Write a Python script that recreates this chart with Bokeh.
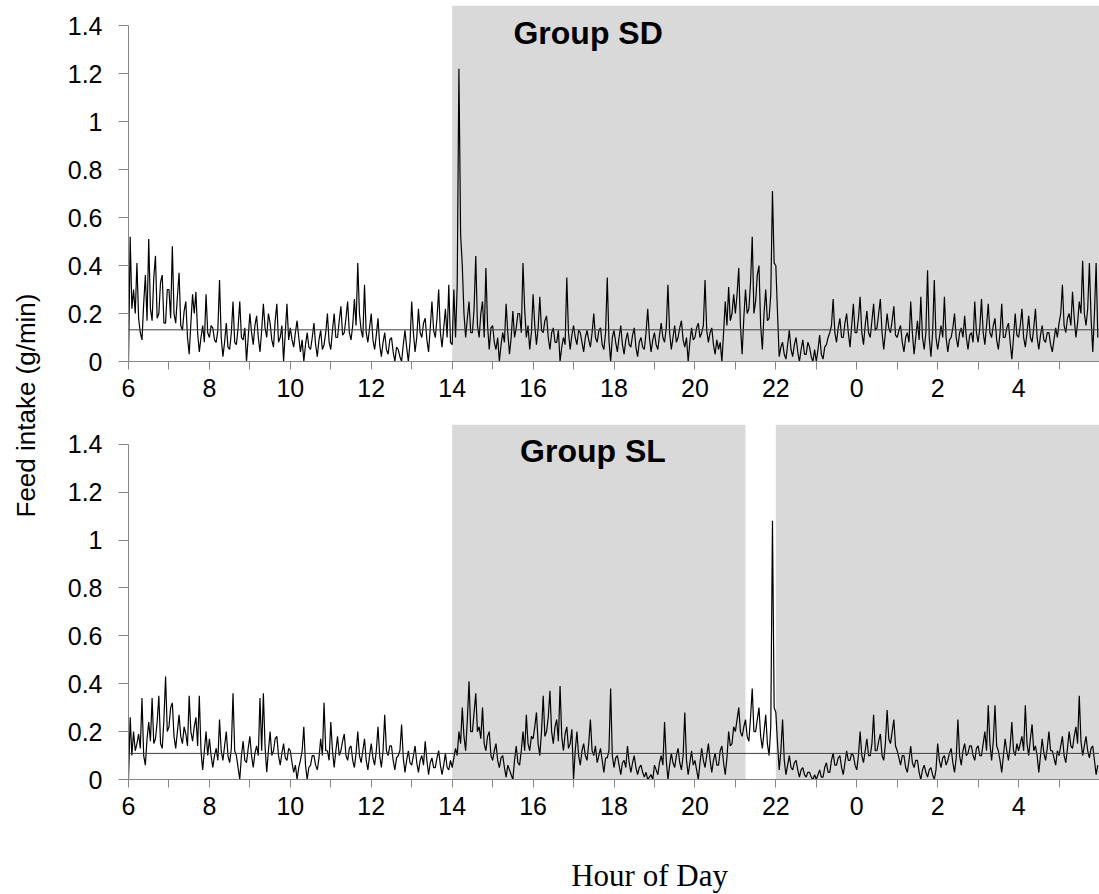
from bokeh.plotting import figure
from bokeh.models import Range1d, FixedTicker, BoxAnnotation, Span, Label
from bokeh.layouts import row, column
from bokeh.embed import file_html
from bokeh.resources import INLINE
import math

# ---------------- data (2.5-min feed intake, g/min), 06:00 -> 05:57 ----------------
sd_values = [
    0.0, 0.52, 0.22, 0.3, 0.2, 0.41, 0.18, 0.12, 0.09, 0.24, 0.36, 0.17, 0.51, 0.22, 0.17, 0.35, 0.44, 0.18, 0.2, 0.33, 0.36, 0.16, 0.16, 0.3,  # 6
    0.3, 0.18, 0.48, 0.2, 0.16, 0.27, 0.37, 0.15, 0.13, 0.21, 0.25, 0.1, 0.03, 0.16, 0.28, 0.2, 0.29, 0.12, 0.04, 0.1, 0.15, 0.08, 0.28, 0.12,  # 7
    0.1, 0.15, 0.14, 0.09, 0.08, 0.13, 0.34, 0.1, 0.02, 0.08, 0.16, 0.06, 0.05, 0.12, 0.25, 0.08, 0.07, 0.14, 0.25, 0.1, 0.09, 0.14, 0.0, 0.1,  # 8
    0.2, 0.12, 0.07, 0.15, 0.19, 0.1, 0.04, 0.13, 0.24, 0.14, 0.1, 0.2, 0.16, 0.09, 0.06, 0.17, 0.24, 0.08, 0.1, 0.15, 0.0, 0.12, 0.24, 0.09,  # 9
    0.14, 0.09, 0.06, 0.12, 0.17, 0.1, 0.04, 0.09, 0.0, 0.07, 0.12, 0.06, 0.05, 0.1, 0.16, 0.07, 0.02, 0.09, 0.13, 0.05, 0.07, 0.12, 0.2, 0.08,  # 10
    0.05, 0.13, 0.2, 0.1, 0.1, 0.17, 0.23, 0.11, 0.12, 0.18, 0.25, 0.12, 0.09, 0.15, 0.26, 0.15, 0.41, 0.2, 0.13, 0.1, 0.32, 0.12, 0.08, 0.14,  # 11
    0.2, 0.09, 0.05, 0.11, 0.18, 0.07, 0.02, 0.08, 0.12, 0.05, 0.03, 0.09, 0.1, 0.04, 0.0, 0.06, 0.05, 0.02, 0.0, 0.07, 0.13, 0.06, 0.0, 0.08,  # 12
    0.25, 0.12, 0.04, 0.1, 0.22, 0.12, 0.1, 0.16, 0.18, 0.09, 0.04, 0.14, 0.25, 0.13, 0.1, 0.18, 0.3, 0.12, 0.06, 0.14, 0.22, 0.1, 0.32, 0.08,  # 13
    0.07, 0.3, 0.1, 0.32, 1.22, 0.53, 0.4, 0.2, 0.1, 0.18, 0.25, 0.12, 0.12, 0.22, 0.44, 0.15, 0.1, 0.2, 0.25, 0.1, 0.39, 0.15, 0.05, 0.14,  # 14
    0.15, 0.08, 0.05, 0.1, 0.0, 0.07, 0.12, 0.08, 0.24, 0.12, 0.03, 0.1, 0.21, 0.1, 0.14, 0.2, 0.2, 0.12, 0.41, 0.22, 0.1, 0.15, 0.05, 0.12,  # 15
    0.28, 0.15, 0.07, 0.14, 0.27, 0.13, 0.12, 0.17, 0.19, 0.1, 0.05, 0.12, 0.14, 0.08, 0.08, 0.13, 0.0, 0.06, 0.1, 0.07, 0.35, 0.12, 0.05, 0.11,  # 16
    0.15, 0.1, 0.07, 0.13, 0.12, 0.08, 0.04, 0.1, 0.13, 0.09, 0.06, 0.12, 0.2, 0.1, 0.08, 0.13, 0.14, 0.07, 0.05, 0.12, 0.35, 0.09, 0.0, 0.1,  # 17
    0.13, 0.08, 0.04, 0.1, 0.15, 0.07, 0.03, 0.09, 0.12, 0.07, 0.06, 0.11, 0.14, 0.06, 0.02, 0.08, 0.1, 0.06, 0.05, 0.12, 0.22, 0.1, 0.04, 0.09,  # 18
    0.12, 0.07, 0.05, 0.11, 0.16, 0.1, 0.08, 0.14, 0.32, 0.12, 0.05, 0.1, 0.15, 0.08, 0.1, 0.14, 0.17, 0.09, 0.06, 0.1, 0.0, 0.08, 0.14, 0.09,  # 19
    0.1, 0.14, 0.16, 0.1, 0.12, 0.15, 0.34, 0.13, 0.08, 0.12, 0.14, 0.07, 0.03, 0.09, 0.05, 0.08, 0.0, 0.12, 0.25, 0.15, 0.31, 0.17, 0.2, 0.28,  # 20
    0.2, 0.28, 0.39, 0.15, 0.03, 0.18, 0.3, 0.2, 0.22, 0.33, 0.52, 0.2, 0.25, 0.36, 0.4, 0.15, 0.05, 0.2, 0.3, 0.17, 0.18, 0.28, 0.71, 0.41,  # 21
    0.4, 0.2, 0.02, 0.06, 0.08, 0.03, 0.01, 0.07, 0.13, 0.05, 0.02, 0.07, 0.1, 0.04, 0.0, 0.05, 0.09, 0.03, 0.03, 0.08, 0.06, 0.02, 0.0, 0.05,  # 22
    0.0, 0.05, 0.11, 0.03, 0.01, 0.06, 0.07, 0.1, 0.12, 0.15, 0.26, 0.12, 0.08, 0.14, 0.18, 0.1, 0.1, 0.16, 0.2, 0.12, 0.06, 0.15, 0.24, 0.12,  # 23
    0.12, 0.18, 0.27, 0.12, 0.07, 0.15, 0.21, 0.12, 0.1, 0.17, 0.24, 0.13, 0.14, 0.2, 0.26, 0.12, 0.05, 0.12, 0.2, 0.14, 0.12, 0.17, 0.23, 0.11,  # 0
    0.1, 0.13, 0.15, 0.08, 0.04, 0.1, 0.12, 0.08, 0.25, 0.12, 0.03, 0.1, 0.17, 0.09, 0.27, 0.1, 0.05, 0.12, 0.38, 0.1, 0.02, 0.12, 0.34, 0.1,  # 1
    0.05, 0.1, 0.15, 0.1, 0.27, 0.1, 0.04, 0.09, 0.1, 0.14, 0.2, 0.1, 0.06, 0.12, 0.14, 0.1, 0.19, 0.1, 0.05, 0.11, 0.12, 0.08, 0.25, 0.12,  # 2
    0.08, 0.14, 0.26, 0.12, 0.07, 0.15, 0.24, 0.12, 0.1, 0.15, 0.18, 0.09, 0.05, 0.12, 0.24, 0.1, 0.1, 0.14, 0.16, 0.08, 0.01, 0.1, 0.2, 0.11,  # 3
    0.1, 0.15, 0.22, 0.1, 0.06, 0.12, 0.19, 0.1, 0.08, 0.14, 0.22, 0.1, 0.05, 0.11, 0.15, 0.09, 0.08, 0.12, 0.12, 0.07, 0.04, 0.09, 0.14, 0.1,  # 4
    0.16, 0.2, 0.32, 0.15, 0.12, 0.18, 0.2, 0.15, 0.29, 0.18, 0.1, 0.16, 0.25, 0.2, 0.42, 0.2, 0.15, 0.22, 0.41, 0.18, 0.04, 0.2, 0.41, 0.1,  # 5
]
sl_values = [
    0.0, 0.26, 0.1, 0.2, 0.12, 0.15, 0.19, 0.13, 0.34, 0.1, 0.06, 0.17, 0.24, 0.16, 0.34, 0.15, 0.17, 0.24, 0.35, 0.15, 0.13, 0.25, 0.43, 0.2,  # 6
    0.22, 0.3, 0.32, 0.18, 0.13, 0.2, 0.27, 0.18, 0.15, 0.22, 0.19, 0.14, 0.35, 0.2, 0.16, 0.22, 0.26, 0.14, 0.35, 0.12, 0.04, 0.12, 0.2, 0.1,  # 7
    0.17, 0.1, 0.05, 0.1, 0.13, 0.08, 0.25, 0.12, 0.08, 0.14, 0.2, 0.1, 0.07, 0.13, 0.36, 0.12, 0.1, 0.05, 0.0, 0.1, 0.16, 0.08, 0.07, 0.13,  # 8
    0.18, 0.1, 0.05, 0.11, 0.14, 0.1, 0.34, 0.12, 0.36, 0.14, 0.03, 0.12, 0.2, 0.1, 0.12, 0.17, 0.18, 0.1, 0.06, 0.11, 0.15, 0.09, 0.08, 0.13,  # 9
    0.12, 0.07, 0.03, 0.06, 0.0, 0.05, 0.08, 0.12, 0.22, 0.06, 0.0, 0.05, 0.06, 0.1, 0.1, 0.06, 0.04, 0.09, 0.17, 0.1, 0.32, 0.12, 0.12, 0.08,  # 10
    0.24, 0.12, 0.05, 0.12, 0.18, 0.1, 0.12, 0.16, 0.19, 0.1, 0.08, 0.13, 0.14, 0.08, 0.05, 0.11, 0.2, 0.1, 0.07, 0.12, 0.17, 0.08, 0.04, 0.1,  # 11
    0.15, 0.09, 0.06, 0.12, 0.22, 0.1, 0.05, 0.12, 0.27, 0.12, 0.1, 0.14, 0.14, 0.08, 0.04, 0.09, 0.1, 0.12, 0.23, 0.09, 0.03, 0.08, 0.12, 0.07,  # 12
    0.06, 0.1, 0.14, 0.07, 0.03, 0.08, 0.1, 0.06, 0.16, 0.08, 0.02, 0.07, 0.09, 0.05, 0.05, 0.09, 0.12, 0.06, 0.02, 0.06, 0.11, 0.05, 0.04, 0.08,  # 13
    0.05, 0.09, 0.13, 0.1, 0.2, 0.15, 0.3, 0.18, 0.12, 0.25, 0.41, 0.2, 0.2, 0.28, 0.36, 0.2, 0.22, 0.17, 0.3, 0.15, 0.12, 0.18, 0.2, 0.1,  # 14
    0.08, 0.12, 0.15, 0.08, 0.05, 0.09, 0.1, 0.05, 0.01, 0.06, 0.04, 0.02, 0.0, 0.08, 0.14, 0.07, 0.06, 0.12, 0.2, 0.12, 0.27, 0.15, 0.12, 0.18,  # 15
    0.17, 0.22, 0.28, 0.15, 0.1, 0.2, 0.35, 0.18, 0.2, 0.26, 0.37, 0.2, 0.15, 0.22, 0.25, 0.16, 0.39, 0.18, 0.12, 0.19, 0.22, 0.13, 0.15, 0.21,  # 16
    0.0, 0.12, 0.2, 0.1, 0.06, 0.12, 0.15, 0.1, 0.08, 0.15, 0.25, 0.12, 0.1, 0.14, 0.07, 0.1, 0.13, 0.08, 0.03, 0.09, 0.09, 0.12, 0.38, 0.1,  # 17
    0.05, 0.09, 0.1, 0.06, 0.02, 0.07, 0.08, 0.05, 0.14, 0.07, 0.03, 0.07, 0.1, 0.05, 0.02, 0.05, 0.06, 0.03, 0.01, 0.03, 0.0, 0.01, 0.02, 0.0,  # 18
    0.06, 0.04, 0.02, 0.07, 0.1, 0.06, 0.24, 0.08, 0.0, 0.06, 0.11, 0.07, 0.05, 0.1, 0.13, 0.07, 0.04, 0.1, 0.28, 0.08, 0.02, 0.07, 0.12, 0.06,  # 19
    0.08, 0.04, 0.0, 0.07, 0.13, 0.08, 0.05, 0.1, 0.15, 0.08, 0.03, 0.08, 0.11, 0.06, 0.06, 0.12, 0.14, 0.07, 0.02, 0.09, 0.2, 0.14, 0.15, 0.22,  # 20
    0.2, 0.25, 0.3, 0.2, 0.18, 0.22, 0.25, 0.18, 0.16, 0.26, 0.38, 0.2, 0.2, 0.25, 0.3, 0.18, 0.13, 0.2, 0.27, 0.15, 0.1, 0.22, 1.08, 0.3,  # 21
    0.28, 0.15, 0.04, 0.12, 0.25, 0.08, 0.02, 0.06, 0.1, 0.05, 0.04, 0.07, 0.08, 0.04, 0.01, 0.04, 0.05, 0.02, 0.01, 0.03, 0.03, 0.01, 0.0, 0.02,  # 22
    0.0, 0.02, 0.04, 0.01, 0.01, 0.05, 0.07, 0.03, 0.03, 0.08, 0.11, 0.06, 0.06, 0.09, 0.1, 0.05, 0.02, 0.07, 0.12, 0.08, 0.08, 0.11, 0.1, 0.06,  # 23
    0.04, 0.1, 0.2, 0.1, 0.07, 0.12, 0.17, 0.1, 0.1, 0.15, 0.27, 0.12, 0.12, 0.16, 0.19, 0.1, 0.08, 0.15, 0.29, 0.17, 0.15, 0.2, 0.25, 0.14,  # 0
    0.12, 0.09, 0.06, 0.1, 0.1, 0.05, 0.03, 0.08, 0.14, 0.07, 0.05, 0.08, 0.08, 0.03, 0.0, 0.04, 0.06, 0.03, 0.01, 0.04, 0.05, 0.02, 0.0, 0.04,  # 1
    0.15, 0.08, 0.05, 0.09, 0.1, 0.06, 0.08, 0.11, 0.13, 0.07, 0.03, 0.09, 0.25, 0.1, 0.06, 0.12, 0.15, 0.1, 0.11, 0.14, 0.14, 0.1, 0.08, 0.13,  # 2
    0.14, 0.1, 0.1, 0.15, 0.2, 0.12, 0.31, 0.15, 0.08, 0.16, 0.31, 0.14, 0.12, 0.08, 0.03, 0.1, 0.17, 0.12, 0.08, 0.14, 0.24, 0.12, 0.1, 0.15,  # 3
    0.12, 0.15, 0.18, 0.12, 0.31, 0.15, 0.1, 0.17, 0.23, 0.12, 0.14, 0.1, 0.03, 0.1, 0.17, 0.11, 0.08, 0.13, 0.2, 0.12, 0.12, 0.09, 0.06, 0.12,  # 4
    0.1, 0.14, 0.18, 0.1, 0.07, 0.13, 0.2, 0.14, 0.13, 0.18, 0.22, 0.15, 0.35, 0.16, 0.1, 0.14, 0.18, 0.12, 0.09, 0.13, 0.14, 0.08, 0.02, 0.06,  # 5
]
hours = [6 + i / 24 for i in range(len(sd_values))]

sd_mean = 0.132
sl_mean = 0.109
sd_dark = [(14, 30)]
sl_dark = [(14, 21.25), (22, 30)]

x_ticks = [6, 8, 10, 12, 14, 16, 18, 20, 22, 24, 26, 28]
x_tick_labels = ["6", "8", "10", "12", "14", "16", "18", "20", "22", "0", "2", "4"]
x_minor = [7, 9, 11, 13, 15, 17, 19, 21, 23, 25, 27, 29]
y_ticks = [0, 0.2, 0.4, 0.6, 0.8, 1, 1.2, 1.4]
y_tick_labels = ["0", "0.2", "0.4", "0.6", "0.8", "1", "1.2", "1.4"]

FONT = "Liberation Sans"
AXIS_GREY = "#868686"
SHADE = "#d9d9d9"
PANEL_W = 1051
YLAB_W = 48


def panel(values, mean, dark, title, title_x, height, border_top, border_bottom, y_end):
    p = figure(width=PANEL_W, height=height, x_range=Range1d(6, 30),
               y_range=Range1d(0, y_end), output_backend="svg",
               toolbar_location=None, min_border_left=80, min_border_right=0,
               min_border_top=border_top, min_border_bottom=border_bottom)
    p.xgrid.visible = False
    p.ygrid.visible = False
    p.outline_line_color = None
    p.background_fill_color = "white"
    for s, e in dark:
        p.add_layout(BoxAnnotation(left=s, right=e, fill_color=SHADE, fill_alpha=1.0,
                                   line_color=None, level="underlay"))
    p.add_layout(Span(location=mean, dimension="width", line_color="#3f3f3f",
                      line_width=1))
    p.line(hours, values, line_color="black", line_width=1.2)

    xa = p.xaxis[0]
    xa.ticker = FixedTicker(ticks=x_ticks, minor_ticks=x_minor)
    xa.major_label_overrides = dict(zip(x_ticks, x_tick_labels))
    xa.axis_line_color = AXIS_GREY
    xa.major_tick_line_color = AXIS_GREY
    xa.minor_tick_line_color = AXIS_GREY
    xa.major_tick_out = 8
    xa.major_tick_in = 0
    xa.minor_tick_out = 8
    xa.minor_tick_in = 0
    xa.major_label_standoff = 9
    xa.major_label_text_font = FONT
    xa.major_label_text_font_size = "25px"
    xa.major_label_text_color = "black"

    ya = p.yaxis[0]
    ya.ticker = FixedTicker(ticks=y_ticks, minor_ticks=[])
    ya.major_label_overrides = dict(zip(y_ticks, y_tick_labels))
    ya.bounds = (0, 1.4)
    ya.axis_line_color = AXIS_GREY
    ya.major_tick_line_color = AXIS_GREY
    ya.major_tick_out = 10
    ya.major_tick_in = 0
    ya.minor_tick_line_color = None
    ya.major_label_standoff = 16
    ya.major_label_text_font = FONT
    ya.major_label_text_font_size = "25px"
    ya.major_label_text_color = "black"

    p.add_layout(Label(x=title_x, y=1.37, text=title, text_font=FONT,
                       text_font_size="32px", text_font_style="bold",
                       text_color="black", text_align="center",
                       text_baseline="middle"))
    return p


top = panel(sd_values, sd_mean, sd_dark, "Group SD", 17.36, 424, 5, 63, 356 / 240)
bot = panel(sl_values, sl_mean, sl_dark, "Group SL", 17.48, 406, 0, 51, 355 / 239.5)

# x-axis title strip
XLAB_H = 64
xlab = figure(width=PANEL_W, height=XLAB_H, x_range=Range1d(0, 1), y_range=Range1d(0, 1),
              output_backend="svg", toolbar_location=None, min_border=0)
xlab.axis.visible = False
xlab.grid.visible = False
xlab.outline_line_color = None
xlab.add_layout(Label(x=(612 - YLAB_W) / PANEL_W, y=1 - 45 / XLAB_H, text="Hour of Day",
                      text_font="Liberation Serif", text_font_size="31px",
                      text_color="black", text_align="center",
                      text_baseline="middle"))

# y-axis title strip
YLAB_H = 894
ylab = figure(width=YLAB_W, height=YLAB_H, x_range=Range1d(0, 1), y_range=Range1d(0, 1),
              output_backend="svg", toolbar_location=None, min_border=0)
ylab.axis.visible = False
ylab.grid.visible = False
ylab.outline_line_color = None
ylab.add_layout(Label(x=25 / YLAB_W, y=1 - 405 / YLAB_H, text="Feed intake (g/min)",
                      text_font=FONT, text_font_size="26px", text_color="black",
                      angle=math.pi / 2, text_align="center",
                      text_baseline="middle"))

layout = row(ylab, column(top, bot, xlab))

open("out.html", "w").write(file_html(layout, INLINE))
